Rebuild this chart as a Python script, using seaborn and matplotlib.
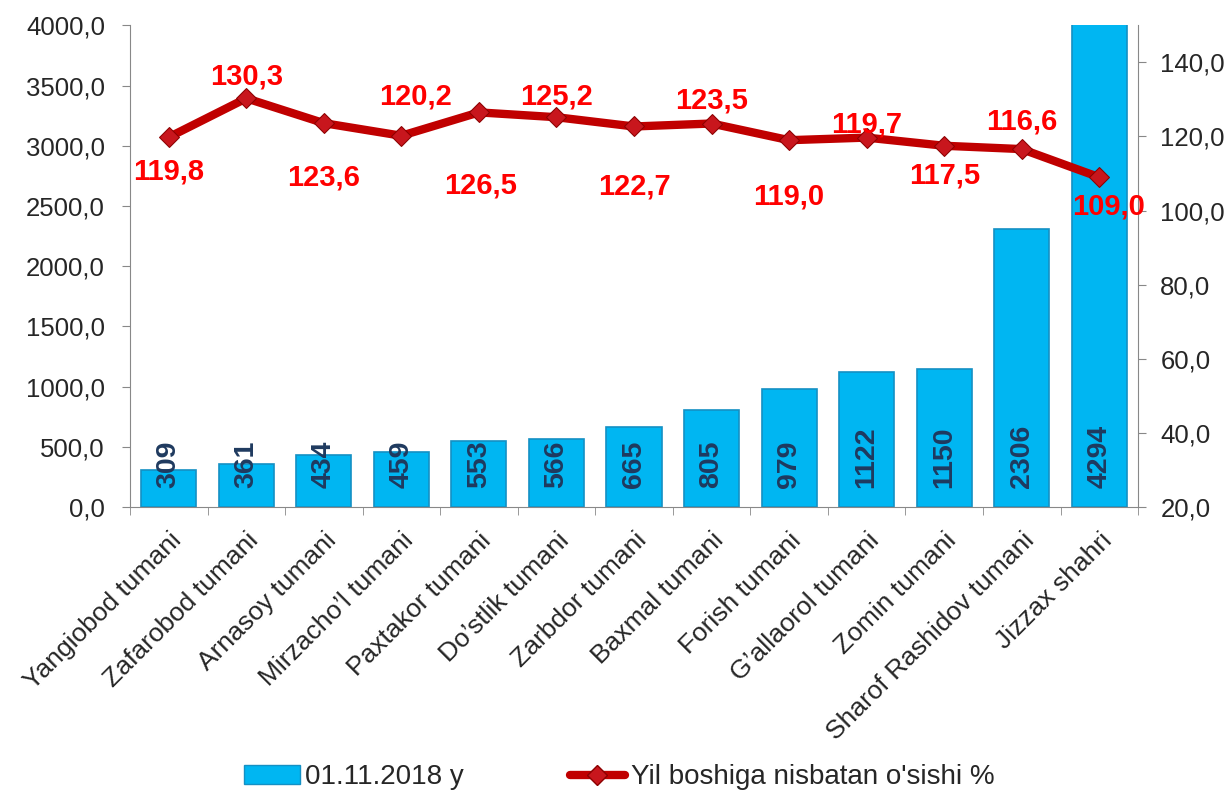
import numpy as np
import pandas as pd
import seaborn as sns
import matplotlib.pyplot as plt
from matplotlib.ticker import FuncFormatter, FixedLocator
from matplotlib.lines import Line2D
from matplotlib.patches import Patch

districts = ["Yangiobod tumani", "Zafarobod tumani", "Arnasoy tumani", "Mirzacho’l tumani",
             "Paxtakor tumani", "Do’stlik tumani", "Zarbdor tumani", "Baxmal tumani",
             "Forish tumani", "G’allaorol tumani", "Zomin tumani", "Sharof Rashidov tumani",
             "Jizzax shahri"]
counts = [309, 361, 434, 459, 553, 566, 665, 805, 979, 1122, 1150, 2306, 4294]
growth = [119.8, 130.3, 123.6, 120.2, 126.5, 125.2, 122.7, 123.5, 119.0, 119.7, 117.5, 116.6, 109.0]
bar_label = "01.11.2018 y"
line_label = "Yil boshiga nisbatan o'sishi %"

sns.set_style("white")
plt.rcParams['font.family'] = ['Liberation Sans', 'DejaVu Sans']

df = pd.DataFrame({"district": districts, "count": counts, "growth": growth})

fig = plt.figure(figsize=(12.31, 7.90), dpi=100)
ax = fig.add_axes([0.1056, 0.358, 0.8189, 0.610])

sns.barplot(data=df, x="district", y="count", color="#00B6F2", width=0.71,
            edgecolor="#1490C4", linewidth=1.2, saturation=1, ax=ax)
ax.set_xlim(-0.5, len(districts) - 0.5)
ax.set_ylim(0, 4000)
ax.set_yticks(np.arange(0, 4001, 500))
comma = FuncFormatter(lambda v, p: f"{v:.1f}".replace(".", ","))
ax.yaxis.set_major_formatter(comma)
ax.set_xlabel("")
ax.set_ylabel("")

for i, c in enumerate(counts):
    ax.text(i, 160, str(c), rotation=90, ha="center", va="bottom", fontsize=20.5,
            fontweight="bold", color="#1F3A5F")

ax.set_xticks(range(len(districts)))
ax.set_xticklabels(districts, rotation=45, ha="right", rotation_mode="anchor", fontsize=19)
ax.tick_params(axis="x", length=0, pad=15)
ax.tick_params(axis="y", labelsize=18.5, length=6, color="#888888", direction="out", left=True, pad=12)
# category boundary ticks
ax.xaxis.set_minor_locator(FixedLocator(np.arange(-0.5, len(districts), 1)))
ax.tick_params(axis="x", which="minor", length=6, color="#888888", bottom=True)

for side in ["top", "right"]:
    ax.spines[side].set_visible(False)
for side in ["left", "bottom"]:
    ax.spines[side].set_color("#888888")

ax2 = ax.twinx()
sns.lineplot(x=np.arange(len(districts)), y=growth, ax=ax2, color="#C00000", linewidth=6,
             marker="D", markersize=10, markerfacecolor="#C8161D", markeredgecolor="#8B0000")
ax2.set_ylim(20, 150)
ax2.set_yticks(np.arange(20, 141, 20))
ax2.yaxis.set_major_formatter(comma)
ax2.tick_params(axis="y", labelsize=18.5, length=6, color="#888888", right=True, pad=10)
ax2.spines["right"].set_color("#888888")
for side in ["top", "left", "bottom"]:
    ax2.spines[side].set_visible(False)
ax2.set_ylabel("")

# label offsets from the marker, pixels (x right, y up)
label_dx = [0, 0, 0, 14, 2, 0, 0, 0, 0, 0, 0, 0, 9]
label_dy = [-34, 22, -54, 39, -73, 21, -60, 23, -56, 13, -30, 28, -29]
for i, g in enumerate(growth):
    ax2.annotate(f"{g:.1f}".replace(".", ","), (i, g), xytext=(label_dx[i], label_dy[i]),
                 textcoords="offset pixels", ha="center", va="center", fontsize=21,
                 fontweight="bold", color="#FF0000")

handles = [Patch(facecolor="#00B6F2", edgecolor="#1490C4", label=bar_label),
           Line2D([0], [0], color="#C00000", linewidth=6, marker="D", markersize=10,
                  markerfacecolor="#C8161D", markeredgecolor="#8B0000", label=line_label)]
fig.legend(handles=handles, loc="lower center", bbox_to_anchor=(0.503, -0.032), ncol=2,
           frameon=False, fontsize=20, columnspacing=3.8, handlelength=2.0, handletextpad=0.2)

fig.savefig("out.png", dpi=100)
